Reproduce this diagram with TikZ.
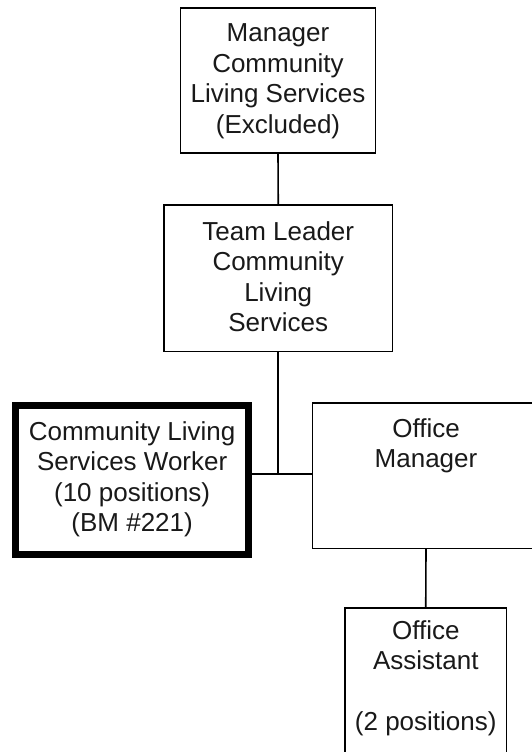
\documentclass[tikz,border=0pt]{standalone}
\usepackage{fontspec}
\setmainfont{Liberation Sans}
\begin{document}
\begin{tikzpicture}[x=1pt,y=1pt,
  box/.style={draw=black, line width=1.6pt, rectangle, inner sep=0pt, outer sep=0pt},
  thickbox/.style={box, line width=6.5pt},
  lbl/.style={align=center, inner sep=0pt, anchor=base, text=black!90,
    font=\fontsize{26}{30.5}\selectfont},
  conn/.style={draw=black, line width=1.6pt}]
\useasboundingbox (0,0) rectangle (532,-752);
% boxes
\node[box, minimum width=195pt, minimum height=145pt] (mgr) at (278,-80.5) {};
\node[box, minimum width=228.5pt, minimum height=146.5pt] (tl) at (278.25,-278.25) {};
\node[thickbox, minimum width=233.1pt, minimum height=148.8pt] (clsw) at (132.15,-480) {};
\node[box, minimum width=227.4pt, minimum height=145.5pt] (om) at (426,-475.75) {};
\node[box, minimum width=161.5pt, minimum height=170pt, anchor=north] (oa) at (425.75,-607.7) {};
% texts (anchor = baseline of the last line)
\node[lbl] (mgrT) at ([yshift=-125pt]mgr.north) {Manager\\Community\\Living Services\\(Excluded)};
\node[lbl] (tlT) at ([yshift=-126.7pt]tl.north) {Team Leader\\Community\\Living\\Services};
\node[lbl] (clswT) at ([yshift=-126.1pt]clsw.north) {Community Living\\Services Worker\\(10 positions)\\(BM \#221)};
\node[lbl] (omT) at ([yshift=-64.5pt]om.north) {Office\\Manager};
\node[lbl] (oaT) at ([yshift=-122.8pt]oa.north) {Office\\Assistant\\[30.5pt](2 positions)};
% connectors
\coordinate (j) at (278.25,-474);
\draw[conn] (mgr.south) -- (tl.north);
\draw[conn] (tl.south) -- (j);
\draw[conn] (clsw.east |- j) -- (om.west |- j);
\draw[conn] (om.south) -- (oa.north);
\end{tikzpicture}
\end{document}
